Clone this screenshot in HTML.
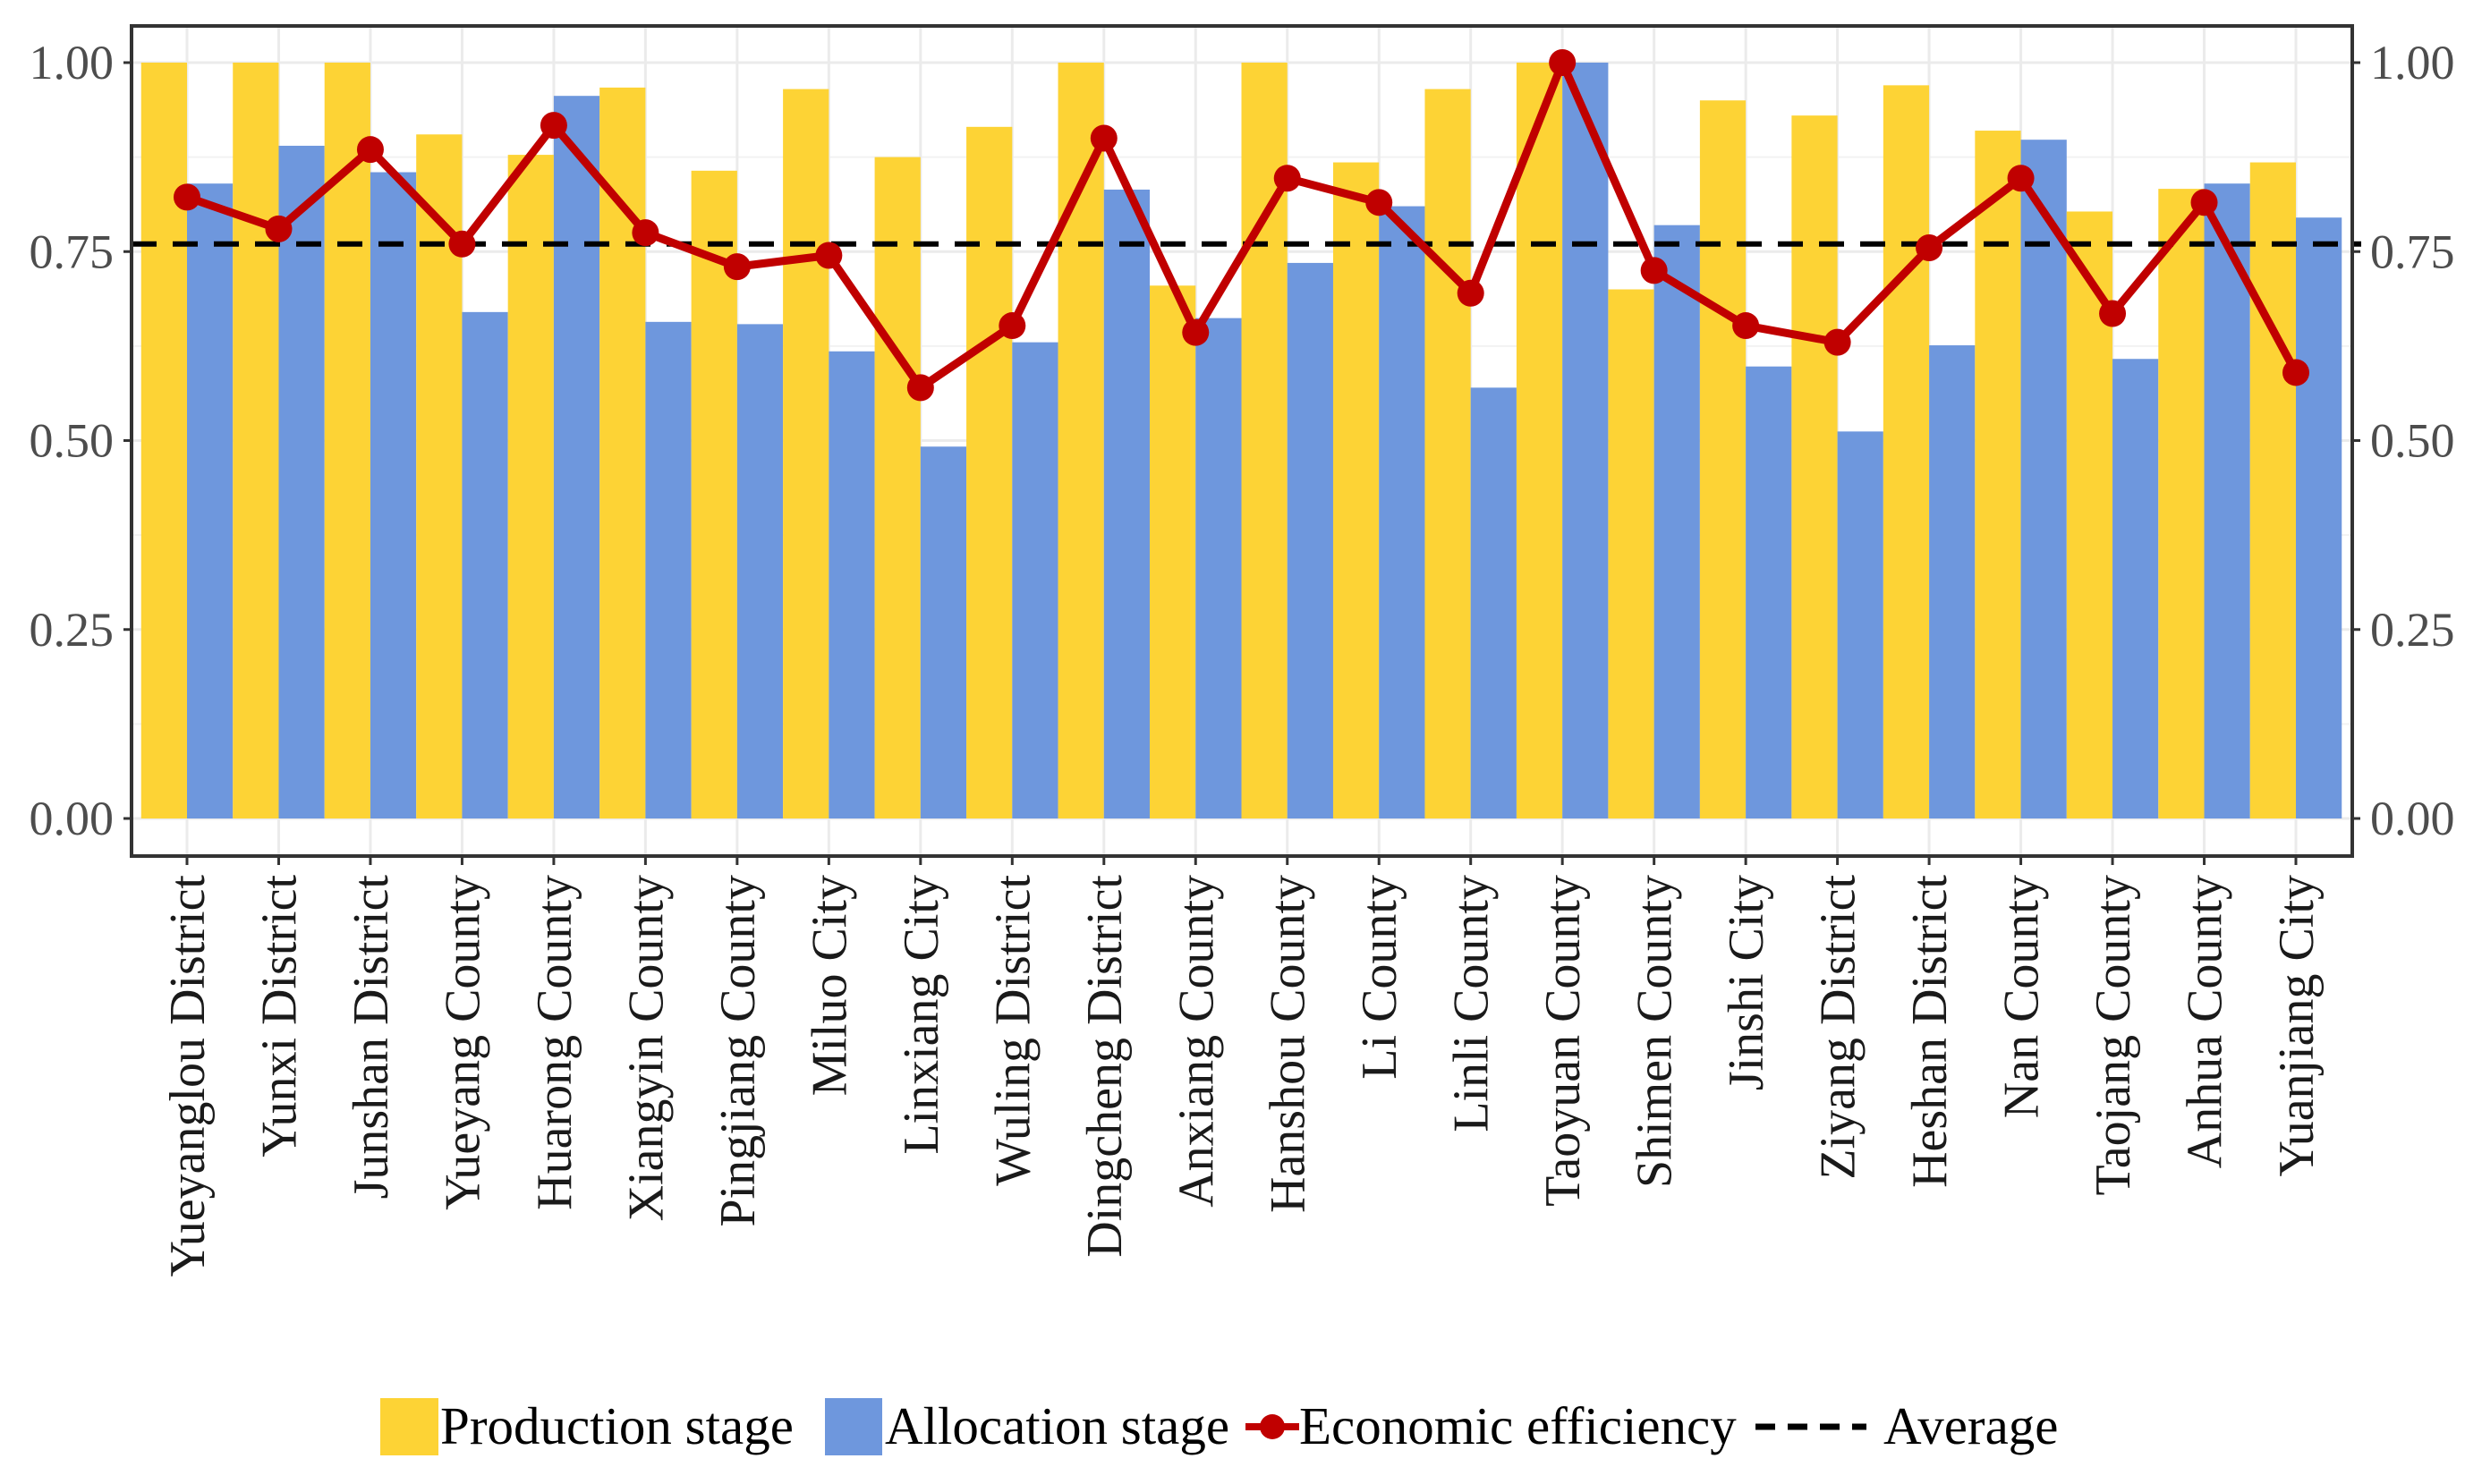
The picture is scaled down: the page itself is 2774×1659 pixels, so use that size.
<!DOCTYPE html>
<html><head><meta charset="utf-8"><style>
html,body{margin:0;padding:0;background:#fff;}
svg{display:block;font-family:"Liberation Serif",serif;}
</style></head><body>
<svg id="chart" width="2774" height="1659" viewBox="0 0 2774 1659" xmlns="http://www.w3.org/2000/svg">
<g id="grid"></g>
<g id="bars"></g>
<g id="avg"></g>
<g id="line"></g>
<g id="axes"></g>
<g id="legend"></g>
</svg>
<script>
const categories = ["Yueyanglou District","Yunxi District","Junshan District","Yueyang County","Huarong County","Xiangyin County","Pingjiang County","Miluo City","Linxiang City","Wuling District","Dingcheng District","Anxiang County","Hanshou County","Li County","Linli County","Taoyuan County","Shimen County","Jinshi City","Ziyang District","Heshan District","Nan County","Taojang County","Anhua County","Yuanjiang City"];
const production = [1.00,1.00,1.00,0.905,0.878,0.967,0.857,0.965,0.875,0.915,1.00,0.705,1.00,0.868,0.965,1.00,0.70,0.95,0.93,0.97,0.91,0.803,0.833,0.868];
const allocation = [0.84,0.89,0.855,0.67,0.956,0.657,0.654,0.618,0.492,0.63,0.832,0.662,0.735,0.81,0.57,1.00,0.785,0.598,0.512,0.626,0.898,0.608,0.84,0.795];
const economic = [0.822,0.78,0.885,0.76,0.917,0.775,0.73,0.745,0.57,0.652,0.9,0.643,0.847,0.815,0.695,1.00,0.725,0.652,0.63,0.755,0.847,0.668,0.815,0.59];
const averageValue = [0.76];
const yTicks = [0,0.25,0.5,0.75,1];
const yTickLabels = ["0.00","0.25","0.50","0.75","1.00"];

const NS="http://www.w3.org/2000/svg";
const L=147,R=2629,T=29,B=957;
const Y0=915,Y1=70;
const X0=209,XN=2566;
const step=(XN-X0)/(categories.length-1);
function x(i){return X0+i*step;}
function y(v){return Y0-(Y0-Y1)*v;}
function mk(tag,attrs,parent){const e=document.createElementNS(NS,tag);for(const k in attrs)e.setAttribute(k,attrs[k]);parent.appendChild(e);return e;}
const grid=document.getElementById('grid'),bars=document.getElementById('bars'),avg=document.getElementById('avg'),line=document.getElementById('line'),axes=document.getElementById('axes'),legend=document.getElementById('legend');

for(let k=0;k<yTicks.length;k++){
  const g=mk('line',{x1:L,x2:R,y1:y(yTicks[k]),y2:y(yTicks[k]),stroke:'#ebebeb','stroke-width':3},grid);
  
  
  if(k<yTicks.length-1){
    const m=mk('line',{x1:L,x2:R,y1:y((yTicks[k]+yTicks[k+1])/2),y2:y((yTicks[k]+yTicks[k+1])/2),stroke:'#f2f2f2','stroke-width':2},grid);
    
    
  }
}
categories.forEach((c,i)=>{
  const g=mk('line',{x1:x(i),x2:x(i),y1:T,y2:B,stroke:'#ebebeb','stroke-width':3},grid);
  
  
});

const bw=step/2;
categories.forEach((c,i)=>{
  const p=mk('rect',{x:x(i)-bw,y:y(production[i]),width:bw,height:y(0)-y(production[i]),fill:'#FDD335'},bars);
  
  
  const a=mk('rect',{x:x(i),y:y(allocation[i]),width:bw,height:y(0)-y(allocation[i]),fill:'#6E97DD'},bars);
  
  
});

const al=mk('line',{x1:L,x2:R+10,y1:y(averageValue[0]),y2:y(averageValue[0]),stroke:'#000','stroke-width':6,'stroke-dasharray':'28 18'},avg);



const pl=mk('polyline',{points:economic.map((v,i)=>x(i)+','+y(v)).join(' '),fill:'none',stroke:'#C00000','stroke-width':9,'stroke-linejoin':'round'},line);


economic.forEach((v,i)=>{
  const c=mk('circle',{cx:x(i),cy:y(v),r:15,fill:'#C00000'},line);
  
  
});

const pb=mk('rect',{x:L,y:T,width:R-L,height:B-T,fill:'none',stroke:'#333','stroke-width':4},axes);


yTicks.forEach((v,k)=>{
  const t1=mk('line',{x1:L-9,x2:L,y1:y(v),y2:y(v),stroke:'#333','stroke-width':3},axes);
  
  
  const l1=mk('text',{x:L-20,y:y(v)+18,'text-anchor':'end','font-size':54,fill:'#4d4d4d'},axes);
  l1.textContent=yTickLabels[k];
  
  
  const t2=mk('line',{x1:R,x2:R+9,y1:y(v),y2:y(v),stroke:'#333','stroke-width':3},axes);
  
  
  const l2=mk('text',{x:R+20,y:y(v)+18,'text-anchor':'start','font-size':54,fill:'#4d4d4d'},axes);
  l2.textContent=yTickLabels[k];
  
  
});
categories.forEach((c,i)=>{
  const t=mk('line',{x1:x(i),x2:x(i),y1:B,y2:B+10,stroke:'#333','stroke-width':3},axes);
  
  
  const lb=mk('text',{transform:'translate('+(x(i)+19)+',978) rotate(-90)','text-anchor':'end','font-size':56,fill:'#1a1a1a'},axes);
  lb.textContent=c;
  
  
});

const ly=1595;
function ltext(tx,xx){const t=mk('text',{x:xx,y:ly+19,'font-size':59,fill:'#000'},legend);t.textContent=tx;return t;}
const k1=mk('rect',{x:425,y:1563,width:65,height:64,fill:'#FDD335'},legend);


ltext('Production stage',492);
const k2=mk('rect',{x:922,y:1563,width:64,height:64,fill:'#6E97DD'},legend);


ltext('Allocation stage',989);
const k3=mk('line',{x1:1392,x2:1452,y1:ly,y2:ly,stroke:'#C00000','stroke-width':8},legend);


const k3c=mk('circle',{cx:1422,cy:ly,r:14,fill:'#C00000'},legend);


ltext('Economic efficiency',1452);
const k4=mk('line',{x1:1962,x2:2086,y1:ly,y2:ly,stroke:'#000','stroke-width':7,'stroke-dasharray':'22 14'},legend);


ltext('Average',2105);
</script>
</body></html>
